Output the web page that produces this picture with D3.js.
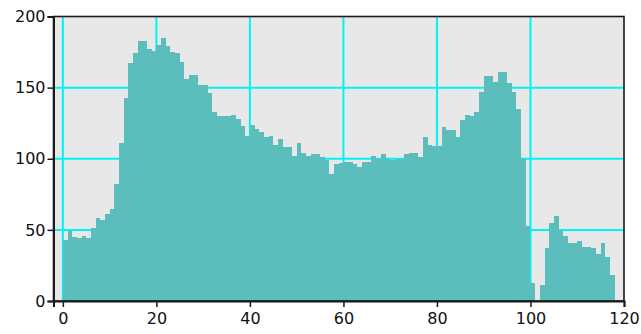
<!DOCTYPE html>
<html>
<head>
<meta charset="utf-8">
<script src="https://cdn.jsdelivr.net/npm/d3@7"></script>
<style>
  body { margin: 0; background: #fff; }
  svg { display: block; }
  .tick text { font-family: "DejaVu Sans", Verdana, sans-serif; font-size: 16px; fill: #111; }
</style>
</head>
<body>
<div id="chart"></div>
<script>
// bin start values (bin width 1) and counts
const binStarts = d3.range(0, 118);
const counts = [
  43, 49, 45, 44, 46, 44, 51, 58, 57, 61,
  65, 82, 111, 143, 167, 174, 183, 183, 177, 176,
  180, 185, 179, 175, 174, 168, 156, 159, 159, 152,
  152, 146, 133, 130, 130, 130, 131, 128, 123, 116,
  124, 121, 119, 115, 116, 110, 114, 108, 108, 102,
  111, 104, 102, 103, 103, 101, 99, 89, 96, 97,
  98, 98, 96, 94, 98, 98, 102, 100, 103, 100,
  99, 100, 100, 103, 104, 104, 101, 115, 110, 109,
  109, 122, 120, 120, 115, 127, 131, 130, 133, 147,
  158, 158, 154, 161, 161, 153, 147, 135, 100, 53,
  13, 0, 11, 37, 55, 60, 50, 46, 41, 41,
  42, 38, 38, 37, 33, 41, 31, 18
];
const xTicks = [0, 20, 40, 60, 80, 100, 120];
const yTicks = [0, 50, 100, 150, 200];

const bins = binStarts.map((s, i) => ({ x0: s, x1: s + 1, count: counts[i] }));

const width = 641;
const height = 334;
const plot = { left: 53.5, right: 624, top: 16.5, bottom: 301 };
const barColor = "#5cbdbd";

const svg = d3
  .select("#chart")
  .append("svg")
  .attr("width", width)
  .attr("height", height);

const x = d3.scaleLinear().domain([-2, 120]).range([plot.left, plot.right]);
const y = d3.scaleLinear().domain([0, 200]).range([plot.bottom, plot.top]);

// plot background
svg
  .append("rect")
  .attr("x", plot.left)
  .attr("y", plot.top)
  .attr("width", plot.right - plot.left)
  .attr("height", plot.bottom - plot.top)
  .attr("fill", "#e8e8e8");

// cyan grid, behind the bars
const grid = svg.append("g").attr("class", "grid").attr("stroke", "#00f4f4").attr("stroke-width", 2);
grid
  .selectAll("line.v")
  .data(xTicks.filter((d) => d < 120))
  .join("line")
  .attr("class", "v")
  .attr("x1", (d) => x(d))
  .attr("x2", (d) => x(d))
  .attr("y1", plot.top)
  .attr("y2", plot.bottom);
grid
  .selectAll("line.h")
  .data(yTicks.filter((d) => d > 0 && d < 200))
  .join("line")
  .attr("class", "h")
  .attr("x1", plot.left)
  .attr("x2", plot.right)
  .attr("y1", (d) => y(d))
  .attr("y2", (d) => y(d));

const px = (v) => Math.round(x(v));
const py = (v) => Math.round(y(v));

// histogram bars, snapped to whole pixels so neighbours touch
svg
  .append("g")
  .attr("class", "bars")
  .attr("shape-rendering", "crispEdges")
  .selectAll("rect")
  .data(bins)
  .join("rect")
  .attr("x", (d) => px(d.x0))
  .attr("width", (d) => px(d.x1) - px(d.x0))
  .attr("y", (d) => py(d.count))
  .attr("height", (d) => py(0) - py(d.count))
  .attr("fill", barColor);

// frame
svg
  .append("rect")
  .attr("x", plot.left)
  .attr("y", plot.top)
  .attr("width", plot.right - plot.left)
  .attr("height", plot.bottom - plot.top)
  .attr("fill", "none")
  .attr("stroke", "#1a1a1a")
  .attr("stroke-width", 1.6);

// axes
const xAxis = d3.axisBottom(x).tickValues(xTicks).tickSize(6).tickPadding(6).tickFormat(d3.format("d"));
const yAxis = d3.axisLeft(y).tickValues(yTicks).tickSize(6).tickPadding(2).tickFormat(d3.format("d"));

svg
  .append("g")
  .attr("class", "x axis")
  .attr("transform", "translate(0," + plot.bottom + ")")
  .call(xAxis)
  .call((g) => g.select(".domain").attr("stroke", "#1a1a1a").attr("stroke-width", 2))
  .call((g) => g.selectAll(".tick line").attr("stroke", "#1a1a1a").attr("stroke-width", 1.5));

svg
  .append("g")
  .attr("class", "y axis")
  .attr("transform", "translate(" + plot.left + ",0)")
  .call(yAxis)
  .call((g) => g.select(".domain").attr("stroke", "#1a1a1a").attr("stroke-width", 2))
  .call((g) => g.selectAll(".tick line").attr("stroke", "#1a1a1a").attr("stroke-width", 1.5));
</script>
</body>
</html>
